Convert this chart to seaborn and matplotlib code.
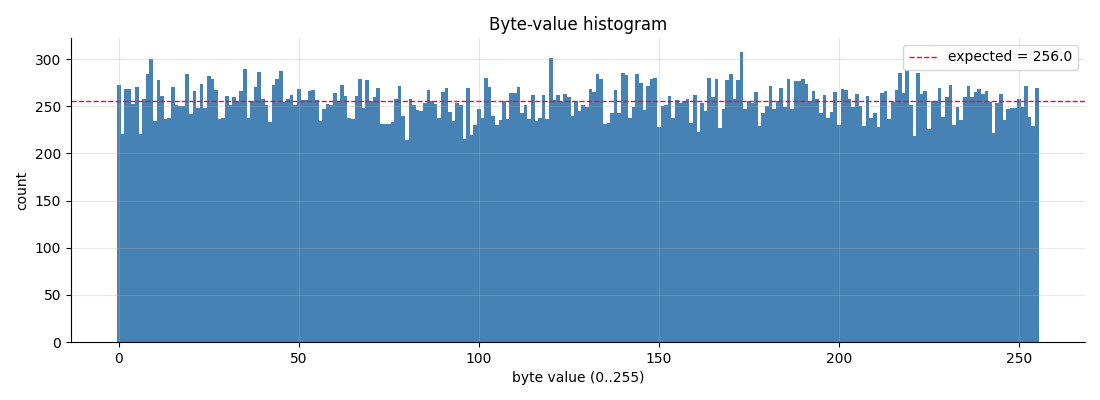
import numpy as np
import pandas as pd
import matplotlib
matplotlib.use("Agg")
import matplotlib.pyplot as plt
import seaborn as sns

byte_values = list(range(256))
counts = [
    273, 221, 268, 268, 252, 270, 221, 258, 284, 300, 234, 278, 261, 236, 238, 270,
    251, 250, 250, 284, 242, 266, 248, 274, 248, 282, 279, 267, 236, 238, 261, 251,
    260, 256, 266, 290, 238, 256, 270, 286, 258, 251, 233, 272, 279, 287, 254, 258,
    262, 251, 268, 257, 257, 266, 267, 257, 234, 247, 252, 251, 264, 255, 273, 261,
    237, 236, 261, 279, 248, 278, 256, 260, 269, 231, 231, 231, 233, 258, 271, 240,
    214, 258, 251, 246, 245, 253, 267, 256, 252, 237, 265, 269, 244, 234, 253, 251,
    215, 269, 219, 230, 247, 238, 280, 270, 240, 230, 235, 256, 236, 264, 264, 270,
    243, 251, 236, 262, 234, 238, 262, 236, 301, 257, 262, 255, 263, 260, 240, 256,
    245, 251, 249, 268, 265, 284, 279, 231, 232, 243, 267, 243, 285, 283, 238, 249,
    284, 275, 246, 271, 279, 280, 228, 250, 251, 261, 237, 257, 253, 254, 258, 232,
    262, 223, 253, 245, 280, 260, 279, 227, 247, 278, 284, 258, 278, 307, 247, 256,
    253, 265, 229, 243, 250, 271, 247, 256, 269, 249, 279, 247, 277, 277, 279, 274,
    254, 266, 258, 243, 262, 238, 244, 265, 230, 268, 267, 258, 249, 263, 250, 229,
    261, 238, 243, 228, 264, 266, 236, 255, 267, 285, 264, 288, 251, 218, 285, 263,
    266, 226, 256, 254, 269, 239, 260, 273, 230, 249, 235, 260, 271, 260, 265, 268,
    263, 266, 255, 222, 253, 263, 235, 247, 248, 248, 258, 249, 271, 239, 229, 269,
]
expected = 256.0

df = pd.DataFrame({"byte": byte_values, "count": counts})

plt.rcParams["font.family"] = ["DejaVu Sans"]

fig, ax = plt.subplots(figsize=(11, 4), dpi=100)
fig.subplots_adjust(left=0.0645, right=0.986, top=0.905, bottom=0.145)

sns.histplot(data=df, x="byte", weights="count", discrete=True,
             color="steelblue", alpha=1.0, edgecolor="none", linewidth=0, ax=ax)

ax.axhline(expected, color="crimson", linestyle="--", linewidth=1,
           label=f"expected = {expected}")
ax.set_axisbelow(False)
ax.grid(True, color="#b0b0b0", alpha=0.3, linewidth=0.8)
ax.set_title("Byte-value histogram", fontsize=12)
ax.set_xlabel("byte value (0..255)")
ax.set_ylabel("count")
ax.legend(loc="upper right")
sns.despine(ax=ax)

fig.savefig("out.png", dpi=100)
